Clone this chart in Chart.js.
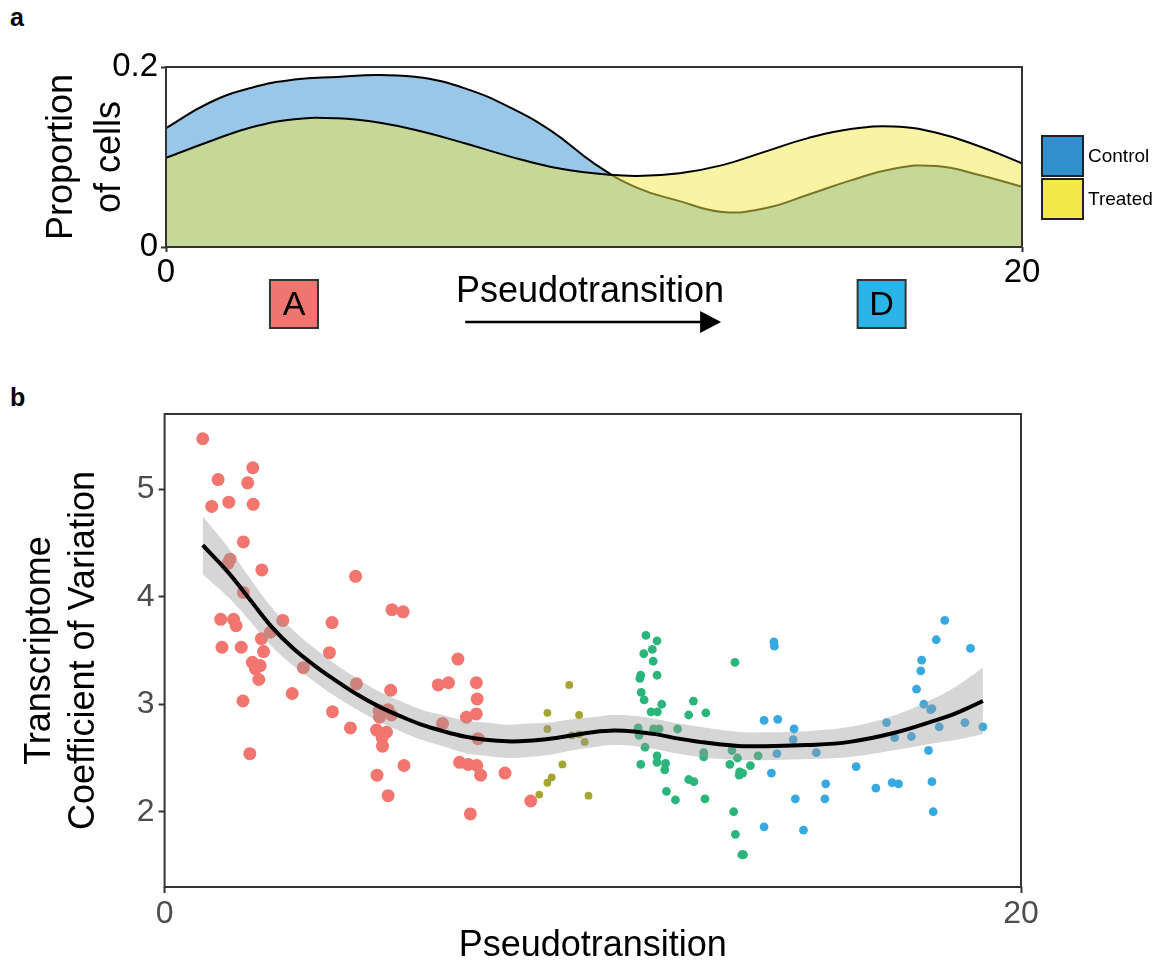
<!DOCTYPE html>
<html><head><meta charset="utf-8">
<script src="https://cdn.jsdelivr.net/npm/chart.js@4.4.1/dist/chart.umd.min.js"></script>
<style>
html,body{margin:0;padding:0;background:#fff;}
body{width:1164px;height:973px;position:relative;overflow:hidden;font-family:"Liberation Sans",Arial,Helvetica,sans-serif;}
.tag{position:absolute;font-weight:bold;font-size:25px;line-height:1;color:#000;}
#wa{position:absolute;left:0;top:0;width:1164px;height:340px;}
#wb{position:absolute;left:0;top:370px;width:1164px;height:603px;}
canvas{display:block;}
</style></head><body>
<div class="tag" style="left:10px;top:5px;">a</div>
<div class="tag" style="left:10px;top:385px;">b</div>
<div id="wa"><canvas id="ca" width="1164" height="340"></canvas></div>
<div id="wb"><canvas id="cb" width="1164" height="603"></canvas></div>
<script>
// ---------- Panel a: density of cells along pseudotransition ----------
const densX = [0,1,2,3,4,5,6,7,8,9,10,11,12,13,14,15,16,17,18,19,20];
const controlDensity = [0.132,0.160,0.177,0.186,0.189,0.191,0.188,0.176,0.156,0.129,0.093,0.066,0.051,0.039,0.043,0.058,0.074,0.087,0.090,0.080,0.067];
const treatedDensity = [0.099,0.117,0.133,0.142,0.143,0.138,0.128,0.115,0.101,0.089,0.082,0.079,0.082,0.091,0.106,0.121,0.131,0.134,0.127,0.112,0.093];
const densXTicks = [0,20];
const densYTicks = [0,0.2];
const groupNames = ['Control','Treated'];
const stageLabels = ['A','D'];
const stageX = [2.99,16.72];
const arrowRange = [6.99,12.97];

// ---------- Panel b: transcriptome CV ----------
const redX = [0.89,1.25,2.06,1.94,1.10,1.50,2.07,1.84,1.53,1.48,2.27,4.46,5.31,5.57,1.84,1.31,1.61,1.67,2.76,3.91,2.47,2.26,1.34,1.79,2.31,3.85,2.05,2.23,2.12,3.24,2.20,2.98,4.48,5.28,1.83,3.92,5.01,5.22,5.02,5.30,4.34,4.95,5.18,5.08,5.09,1.99,4.96,5.22,5.59,6.85,6.39,6.63,7.28,7.30,7.05,7.28,6.49,7.32,6.89,7.09,7.29,7.38,7.95,8.55,7.14];
const redY = [5.47,5.09,5.20,5.06,4.84,4.88,4.86,4.51,4.35,4.31,4.25,4.19,3.88,3.86,4.04,3.79,3.79,3.73,3.78,3.76,3.67,3.61,3.53,3.53,3.49,3.48,3.39,3.36,3.33,3.34,3.23,3.10,3.19,3.13,3.03,2.93,2.94,2.95,2.88,2.90,2.78,2.76,2.74,2.69,2.61,2.54,2.34,2.15,2.43,3.42,3.18,3.20,3.20,3.05,2.88,2.91,2.82,2.68,2.46,2.44,2.43,2.34,2.36,2.10,1.98];
const oliveX = [9.45,8.94,9.68,8.94,9.51,9.68,9.81,9.29,9.04,8.94,8.75,9.90];
const oliveY = [3.18,2.92,2.90,2.77,2.71,2.72,2.65,2.44,2.32,2.27,2.16,2.15];
const greenX = [11.24,11.50,11.39,11.19,11.41,11.12,11.10,11.50,11.13,11.20,11.61,11.36,11.51,12.35,12.24,12.64,13.32,11.06,11.08,11.42,11.55,11.98,11.22,11.12,11.50,11.50,11.70,11.68,12.59,12.59,12.24,12.36,11.72,11.93,12.62,13.25,13.38,13.20,13.43,13.50,13.42,13.68,13.86,13.29,13.33,13.48,13.52];
const greenY = [3.64,3.59,3.51,3.47,3.40,3.27,3.24,3.27,3.11,3.04,3.00,2.93,2.93,3.03,2.90,2.92,3.39,2.78,2.71,2.77,2.77,2.77,2.60,2.44,2.52,2.46,2.45,2.39,2.55,2.51,2.30,2.28,2.19,2.11,2.12,2.57,2.50,2.44,2.37,2.36,2.34,2.43,2.52,2.00,1.79,1.60,1.60];
const blueX = [14.23,14.24,14.00,14.32,14.70,14.68,14.30,15.22,14.17,15.44,14.73,15.42,14.00,14.92,16.15,16.61,16.99,17.14,16.86,17.05,17.44,17.84,17.92,17.95,17.56,17.66,17.68,17.73,17.89,17.92,18.02,18.22,18.82,18.09,18.69,19.11];
const blueY = [3.58,3.54,2.85,2.86,2.77,2.67,2.54,2.55,2.36,2.26,2.12,2.12,1.86,1.83,2.42,2.22,2.27,2.26,2.83,2.69,2.70,2.57,2.28,2.00,3.14,3.31,3.41,3.00,2.95,2.96,3.60,3.78,3.52,2.79,2.83,2.79];
const smoothX = [0.89,1.5,2,2.5,3,3.5,4,4.5,5,5.5,6,6.5,7,7.5,8,8.5,9,9.5,10,10.5,11,11.5,12,12.5,13,13.5,14,15,16,17,18,18.5,19.11];
const smoothY = [4.48,4.22,3.97,3.72,3.52,3.36,3.22,3.09,2.98,2.89,2.81,2.75,2.70,2.67,2.655,2.66,2.68,2.71,2.74,2.755,2.745,2.72,2.68,2.65,2.625,2.61,2.61,2.62,2.65,2.73,2.85,2.92,3.03];
const smoothUpper = [4.75,4.45,4.17,3.90,3.69,3.52,3.37,3.24,3.12,3.03,2.95,2.90,2.85,2.83,2.81,2.82,2.83,2.86,2.88,2.90,2.89,2.86,2.82,2.79,2.76,2.74,2.74,2.75,2.79,2.89,3.06,3.17,3.34];
const smoothLower = [4.21,3.99,3.77,3.54,3.36,3.21,3.07,2.95,2.84,2.75,2.67,2.61,2.55,2.52,2.50,2.51,2.53,2.57,2.60,2.62,2.61,2.58,2.54,2.51,2.49,2.48,2.48,2.49,2.51,2.57,2.64,2.67,2.72];
const cvXTicks = [0,20];
const cvYTicks = [2,3,4,5];

const FAM = "'Liberation Sans', Arial, Helvetica, sans-serif";
const pts = (xs, ys) => xs.map((x, i) => ({x: x, y: ys[i]}));

const framePlugin = {
  id: 'frame',
  afterDatasetsDraw(chart) {
    const {ctx, chartArea: a} = chart;
    ctx.save();
    ctx.strokeStyle = '#333';
    ctx.lineWidth = 2;
    ctx.strokeRect(a.left, a.top, a.right - a.left, a.bottom - a.top);
    ctx.restore();
  }
};

const annotA = {
  id: 'annotA',
  afterDraw(chart) {
    const {ctx, chartArea: a, scales: {x}} = chart;
    ctx.save();
    ctx.fillStyle = '#000';
    ctx.font = '36px ' + FAM;
    ctx.textAlign = 'center';
    ctx.textBaseline = 'middle';
    ctx.fillText('Pseudotransition', (a.left + a.right) / 2 - 4, a.bottom + 45);
    const ay = a.bottom + 75;
    const x0 = x.getPixelForValue(arrowRange[0]);
    const x1 = x.getPixelForValue(arrowRange[1]);
    ctx.strokeStyle = '#000';
    ctx.lineWidth = 2.5;
    ctx.beginPath(); ctx.moveTo(x0, ay); ctx.lineTo(x1 - 18, ay); ctx.stroke();
    ctx.beginPath(); ctx.moveTo(x1 - 21, ay - 11); ctx.lineTo(x1, ay); ctx.lineTo(x1 - 21, ay + 11); ctx.closePath(); ctx.fill();
    const colors = ['#F07470', '#29B5E8'];
    stageLabels.forEach((lab, i) => {
      const cx = x.getPixelForValue(stageX[i]);
      const cy = a.bottom + 57;
      ctx.fillStyle = colors[i];
      ctx.fillRect(cx - 24, cy - 24, 48, 48);
      ctx.strokeStyle = '#333';
      ctx.lineWidth = 2;
      ctx.strokeRect(cx - 24, cy - 24, 48, 48);
      ctx.fillStyle = '#000';
      ctx.font = '34px ' + FAM;
      ctx.textAlign = 'center';
      ctx.textBaseline = 'middle';
      ctx.fillText(lab, cx, cy + 2);
    });
    const keyColors = ['#3290D0', '#F3EA4A'];
    const lx = a.right + 20;
    groupNames.forEach((g, i) => {
      const ty = 136 + i * 43;
      ctx.fillStyle = keyColors[i];
      ctx.fillRect(lx, ty, 41, 40);
      ctx.strokeStyle = '#222';
      ctx.lineWidth = 2;
      ctx.strokeRect(lx, ty, 41, 40);
      ctx.fillStyle = '#000';
      ctx.font = '19px ' + FAM;
      ctx.textAlign = 'left';
      ctx.textBaseline = 'middle';
      ctx.fillText(g, lx + 46, ty + 21);
    });
    ctx.restore();
  }
};

new Chart(document.getElementById('ca'), {
  type: 'line',
  data: {
    datasets: [
      {label: groupNames[1], data: pts(densX, treatedDensity), borderColor: '#000', borderWidth: 2,
       backgroundColor: 'rgba(243,234,74,0.5)', fill: 'origin', pointRadius: 0, tension: 0.45, order: 0},
      {label: groupNames[0], data: pts(densX, controlDensity), borderColor: '#000', borderWidth: 2,
       backgroundColor: 'rgba(50,144,208,0.5)', fill: 'origin', pointRadius: 0, tension: 0.45, order: 1}
    ]
  },
  options: {
    responsive: false, animation: false, devicePixelRatio: 1, events: [],
    layout: {padding: {left: 0, right: 142, top: 67, bottom: 0}},
    plugins: {legend: {display: false}, tooltip: {enabled: false}},
    scales: {
      x: {
        type: 'linear', min: 0, max: 20,
        afterBuildTicks: s => { s.ticks = densXTicks.map(v => ({value: v})); },
        afterFit: s => { s.height = 93; },
        grid: {display: true, drawOnChartArea: false, drawTicks: true, tickLength: 5, tickWidth: 2, tickColor: '#333'},
        border: {display: false},
        ticks: {color: '#000', font: {family: FAM, size: 33}, padding: 1, maxRotation: 0, autoSkip: false}
      },
      y: {
        type: 'linear', min: 0, max: 0.2,
        afterBuildTicks: s => { s.ticks = densYTicks.map(v => ({value: v})); },
        afterFit: s => { s.width = 166; },
        grid: {display: true, drawOnChartArea: false, drawTicks: true, tickLength: 5, tickWidth: 2, tickColor: '#333'},
        border: {display: false},
        ticks: {color: '#000', font: {family: FAM, size: 33}, padding: 3, callback: v => String(v)},
        title: {display: true, text: ['Proportion', 'of cells'], color: '#000',
                font: {family: FAM, size: 36, lineHeight: 1.33}, padding: {top: 38, bottom: 0}}
      }
    }
  },
  plugins: [framePlugin, annotA]
});

new Chart(document.getElementById('cb'), {
  type: 'scatter',
  data: {
    datasets: [
      {type: 'line', label: 'Smooth', data: pts(smoothX, smoothY), showLine: true, borderColor: '#000',
       borderWidth: 4, pointRadius: 0, tension: 0.4, fill: false, order: 0},
      {type: 'line', label: 'Upper', data: pts(smoothX, smoothUpper), showLine: true, borderColor: 'rgba(0,0,0,0)',
       borderWidth: 1, pointRadius: 0, tension: 0.4, fill: '+1', backgroundColor: 'rgba(153,153,153,0.4)', order: 1},
      {type: 'line', label: 'Lower', data: pts(smoothX, smoothLower), showLine: true, borderColor: 'rgba(0,0,0,0)',
       borderWidth: 1, pointRadius: 0, tension: 0.4, fill: false, order: 1},
      {label: 'Stage A', data: pts(redX, redY), backgroundColor: '#F2756F', pointRadius: 6.5, pointBorderWidth: 0, order: 5},
      {label: 'Stage B', data: pts(oliveX, oliveY), backgroundColor: '#A5A532', pointRadius: 3.9, pointBorderWidth: 0, order: 4},
      {label: 'Stage C', data: pts(greenX, greenY), backgroundColor: '#2AB67B', pointRadius: 4.4, pointBorderWidth: 0, order: 3},
      {label: 'Stage D', data: pts(blueX, blueY), backgroundColor: '#37A9E1', pointRadius: 4.4, pointBorderWidth: 0, order: 2}
    ]
  },
  options: {
    responsive: false, animation: false, devicePixelRatio: 1, events: [],
    layout: {padding: {left: 0, right: 143, top: 44, bottom: 0}},
    plugins: {legend: {display: false}, tooltip: {enabled: false}},
    scales: {
      x: {
        type: 'linear', min: 0, max: 20,
        afterBuildTicks: s => { s.ticks = cvXTicks.map(v => ({value: v})); },
        afterFit: s => { s.height = 86; },
        grid: {display: true, drawOnChartArea: false, drawTicks: true, tickLength: 6, tickWidth: 2, tickColor: '#333'},
        border: {display: false},
        ticks: {color: '#4D4D4D', font: {family: FAM, size: 32}, padding: 2, maxRotation: 0, autoSkip: false},
        title: {display: true, text: 'Pseudotransition', color: '#000',
                font: {family: FAM, size: 36, lineHeight: 1.2}, padding: {top: 0, bottom: 5}}
      },
      y: {
        type: 'linear', min: 1.3, max: 5.7,
        afterBuildTicks: s => { s.ticks = cvYTicks.map(v => ({value: v})); },
        afterFit: s => { s.width = 164.6; },
        grid: {display: true, drawOnChartArea: false, drawTicks: true, tickLength: 6, tickWidth: 2, tickColor: '#333'},
        border: {display: false},
        ticks: {color: '#4D4D4D', font: {family: FAM, size: 32}, padding: 4, callback: v => String(v)},
        title: {display: true, text: ['Transcriptome', 'Coefficient of Variation'], color: '#000',
                font: {family: FAM, size: 36, lineHeight: 1.22}, padding: {top: 18, bottom: 0}}
      }
    }
  },
  plugins: [framePlugin]
});
</script>
</body></html>
